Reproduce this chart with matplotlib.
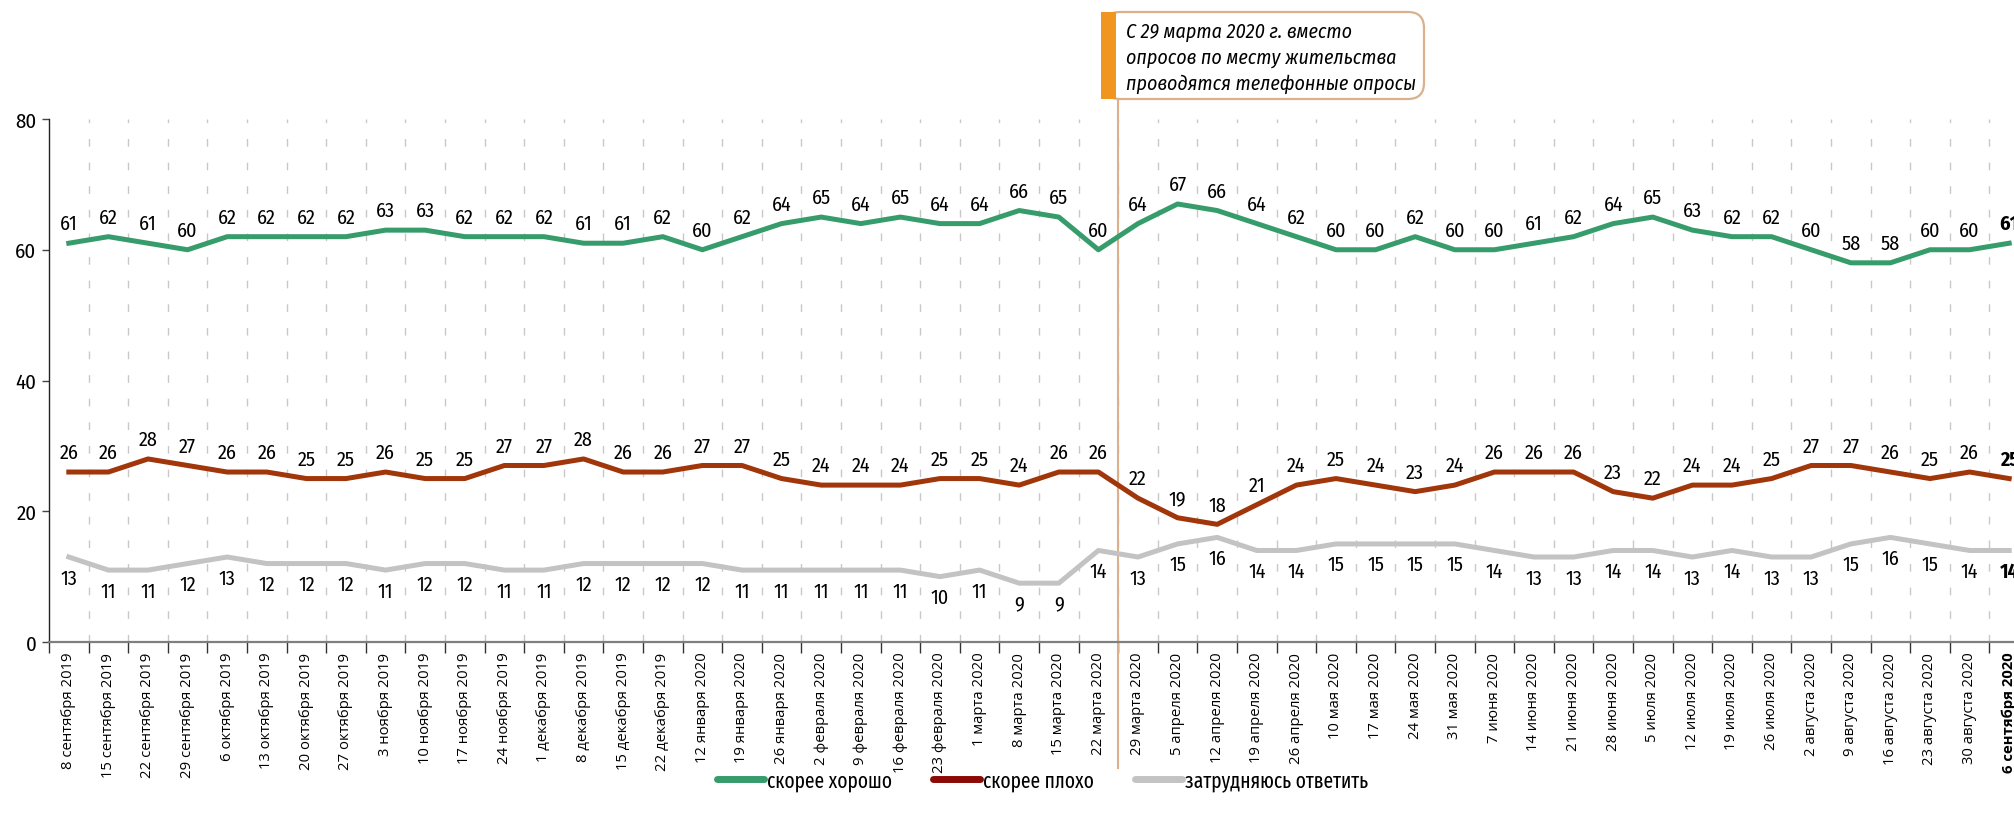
import matplotlib
matplotlib.use("Agg")
import matplotlib.pyplot as plt
from matplotlib import font_manager as fm
from matplotlib.patches import FancyBboxPatch, Rectangle
from matplotlib.lines import Line2D
import numpy as np

dates = ["8 сентября 2019", "15 сентября 2019", "22 сентября 2019", "29 сентября 2019",
         "6 октября 2019", "13 октября 2019", "20 октября 2019", "27 октября 2019",
         "3 ноября 2019", "10 ноября 2019", "17 ноября 2019", "24 ноября 2019",
         "1 декабря 2019", "8 декабря 2019", "15 декабря 2019", "22 декабря 2019",
         "12 января 2020", "19 января 2020", "26 января 2020", "2 февраля 2020",
         "9 февраля 2020", "16 февраля 2020", "23 февраля 2020", "1 марта 2020",
         "8 марта 2020", "15 марта 2020", "22 марта 2020",
         "29 марта 2020", "5 апреля 2020", "12 апреля 2020", "19 апреля 2020",
         "26 апреля 2020", "10 мая 2020", "17 мая 2020", "24 мая 2020", "31 мая 2020",
         "7 июня 2020", "14 июня 2020", "21 июня 2020", "28 июня 2020",
         "5 июля 2020", "12 июля 2020", "19 июля 2020", "26 июля 2020",
         "2 августа 2020", "9 августа 2020", "16 августа 2020", "23 августа 2020",
         "30 августа 2020", "6 сентября 2020"]

good = [61, 62, 61, 60, 62, 62, 62, 62, 63, 63, 62, 62, 62, 61, 61, 62,
        60, 62, 64, 65, 64, 65, 64, 64, 66, 65, 60,
        64, 67, 66, 64, 62, 60, 60, 62, 60, 60, 61, 62, 64, 65, 63, 62, 62,
        60, 58, 58, 60, 60, 61]
bad = [26, 26, 28, 27, 26, 26, 25, 25, 26, 25, 25, 27, 27, 28, 26, 26,
       27, 27, 25, 24, 24, 24, 25, 25, 24, 26, 26,
       22, 19, 18, 21, 24, 25, 24, 23, 24, 26, 26, 26, 23, 22, 24, 24, 25,
       27, 27, 26, 25, 26, 25]
unsure = [13, 11, 11, 12, 13, 12, 12, 12, 11, 12, 12, 11, 11, 12, 12, 12,
          12, 11, 11, 11, 11, 11, 10, 11, 9, 9, 14,
          13, 15, 16, 14, 14, 15, 15, 15, 15, 14, 13, 13, 14, 14, 13, 14, 13,
          13, 15, 16, 15, 14, 14]

series_names = ["скорее хорошо", "скорее плохо", "затрудняюсь ответить"]
note_lines = ["С 29 марта 2020 г. вместо", "опросов по месту жительства",
              "проводятся телефонные опросы"]
switch_index = 26.5

ttf = fm.fontManager.ttflist
available = {f.name for f in ttf}
def pick(cands):
    for c in cands:
        if c in available:
            return c
    return "DejaVu Sans"

NARROW = pick(["Fira Sans Condensed", "PT Sans Narrow", "Roboto Condensed",
               "Liberation Sans Narrow", "Liberation Sans"])
LEGF = pick(["Fira Sans Extra Condensed", "Fira Sans Condensed", "PT Sans Narrow"])

GREEN = "#379c6b"
RED = "#a0360a"
GREY = "#c3c3c3"

W, H = 2015, 829
fig = plt.figure(figsize=(W / 100, H / 100), dpi=100)
renderer = fig.canvas.get_renderer()

def text_width(text, size, **kw):
    t = fig.text(0, 0, text, fontsize=size, **kw)
    w = t.get_window_extent(renderer).width
    t.remove()
    return w

def fit_size(text, target_px, **kw):
    return 10.0 * target_px / text_width(text, 10.0, **kw)

# choose a normal-width humanist sans for the date labels
TICKF = "DejaVu Sans"
for cand in ["Open Sans", "Noto Sans", "PT Sans", "Lato", "Roboto"]:
    if cand not in available:
        continue
    em_px = 10.0 * 100 / 72
    if text_width(dates[0], 10.0, family=cand) / em_px > 6.9:
        TICKF = cand
        break

tick_size = fit_size(dates[0], 117, family=TICKF)
leg_size = fit_size(series_names[0], 125, family=LEGF)
note_size = fit_size(note_lines[1], 271, family=NARROW, style="italic")

ax_l, ax_r = 49, 2029
ax_top, ax_bot = 120, 643
ax = fig.add_axes([ax_l / W, (H - ax_bot) / H, (ax_r - ax_l) / W, (ax_bot - ax_top) / H])

n = len(dates)
x = np.arange(n)
ax.set_xlim(-0.5, n - 0.5)
ax.set_ylim(0, 80)

bounds = np.arange(0.5, n - 0.5, 1.0)
ax.vlines(bounds, 0, 80, colors="#c8c8c8", linewidth=1.0, linestyles=(0, (5.5, 11.5)), zorder=1)

lw = 3.6
ax.plot(x, good, color=GREEN, lw=lw, solid_joinstyle="round", zorder=3, clip_on=False)
ax.plot(x, bad, color=RED, lw=lw, solid_joinstyle="round", zorder=3, clip_on=False)
ax.plot(x, unsure, color=GREY, lw=lw, solid_joinstyle="round", zorder=3, clip_on=False)

for i in range(n):
    wt = "bold" if i == n - 1 else "normal"
    ax.annotate(str(good[i]), (x[i], good[i]), xytext=(0, 14), textcoords="offset points",
                ha="center", va="center", fontsize=14.5, family=NARROW, weight=wt, zorder=4)
    ax.annotate(str(bad[i]), (x[i], bad[i]), xytext=(0, 14), textcoords="offset points",
                ha="center", va="center", fontsize=14.5, family=NARROW, weight=wt, zorder=4)
    ax.annotate(str(unsure[i]), (x[i], unsure[i]), xytext=(0, -15), textcoords="offset points",
                ha="center", va="center", fontsize=14.5, family=NARROW, weight=wt, zorder=4)

for s in ["top", "right"]:
    ax.spines[s].set_visible(False)
ax.spines["left"].set_color("#222222")
ax.spines["left"].set_linewidth(1.0)
ax.spines["bottom"].set_color("#7f7f7f")
ax.spines["bottom"].set_linewidth(1.6)

ax.set_yticks([0, 20, 40, 60, 80])
ax.set_yticklabels(["0", "20", "40", "60", "80"], family=NARROW, fontsize=15)
ax.tick_params(axis="y", length=5, width=1, color="#444444", pad=4)

ax.set_xticks(x)
labels = ax.set_xticklabels(dates, rotation=90, family=TICKF, fontsize=tick_size)
labels[-1].set_fontweight("bold")
ax.tick_params(axis="x", which="major", length=0, pad=7)
ax.set_xticks(np.arange(-0.5, n, 1.0), minor=True)
ax.tick_params(axis="x", which="minor", length=8, width=1, color="#333333", direction="out")

ax.plot([switch_index, switch_index], [-19.2, 83.0], color="#dcb08a", lw=1.5,
        clip_on=False, zorder=2)

bx0, bx1, by0, by1 = 1104, 1424, 13, 100
box = FancyBboxPatch((bx0 / W, (H - by1) / H), (bx1 - bx0) / W, (by1 - by0) / H,
                     boxstyle="round,pad=0,rounding_size=0.008", transform=fig.transFigure,
                     facecolor="white", edgecolor="#dcb08a", linewidth=1.6, mutation_aspect=W / H)
fig.patches.append(box)
bar = Rectangle((1101 / W, (H - by1) / H), 15 / W, (by1 - by0) / H, transform=fig.transFigure,
                facecolor="#f0961e", edgecolor="none")
fig.patches.append(bar)
for k, line in enumerate(note_lines):
    fig.text(1126 / W, (H - (32 + 26 * k)) / H, line, family=NARROW, style="italic",
             fontsize=note_size, ha="left", va="center")

leg_px = leg_size * 100 / 72
handles = [Line2D([], [], color=c, lw=5, solid_capstyle="round") for c in (GREEN, "#8b0a06", GREY)]
fig.legend(handles, series_names, loc="center", bbox_to_anchor=(0.5176, 48 / H),
           ncol=3, frameon=False, handlelength=47 / leg_px, handletextpad=3 / leg_px,
           columnspacing=41 / leg_px, borderaxespad=0, borderpad=0,
           prop={"family": LEGF, "size": leg_size})

fig.savefig("out.png", dpi=100)
